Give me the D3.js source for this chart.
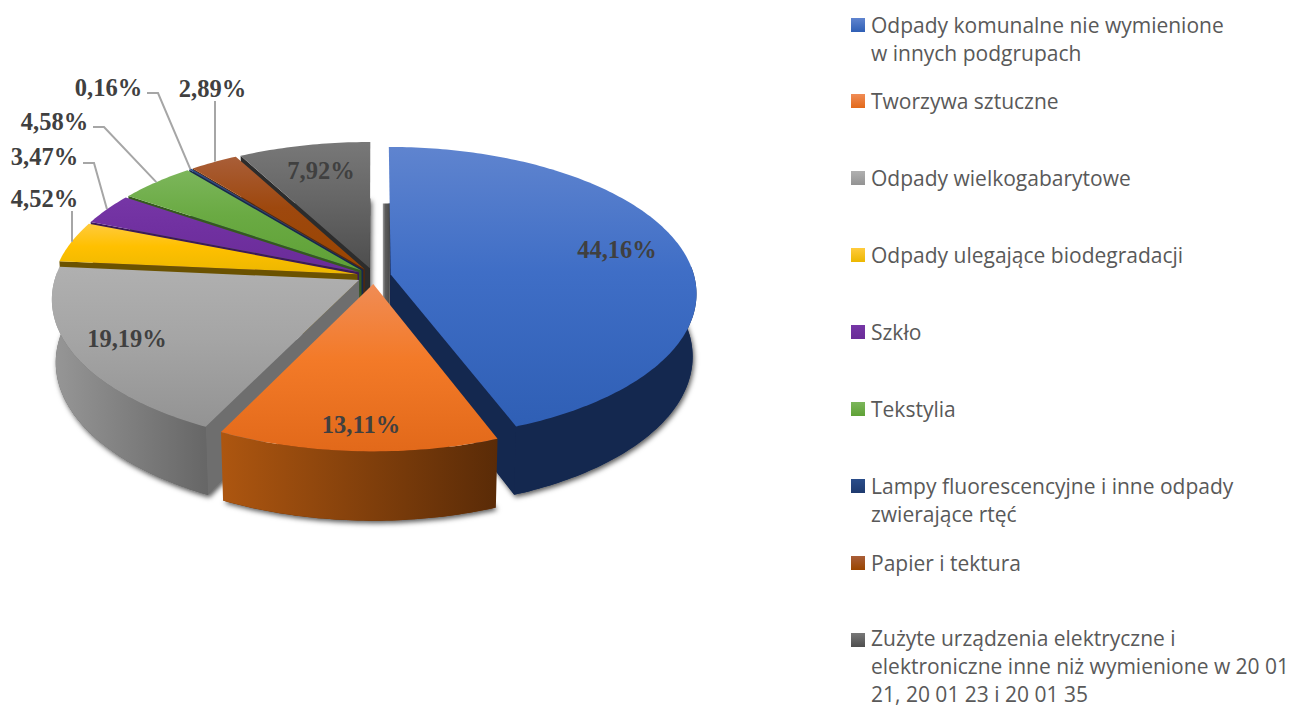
<!DOCTYPE html>
<html>
<head>
<meta charset="utf-8">
<script src="https://cdnjs.cloudflare.com/ajax/libs/d3/7.8.5/d3.min.js"></script>
<style>
  html, body { margin: 0; padding: 0; background: #fff; }
  svg { display: block; }
  .val { font-family: "Liberation Serif", serif; font-weight: bold; font-size: 24.5px; fill: #404040; }
  .leg { font-family: "Open Sans", sans-serif; font-size: 21px; fill: #595959; }
</style>
</head>
<body>
<svg id="chart" width="1295" height="707"></svg>
<script>
// data
var values = [44.16, 13.11, 19.19, 4.52, 3.47, 4.58, 0.16, 2.89, 7.92];
var valueLabels = ["44,16%", "13,11%", "19,19%", "4,52%", "3,47%", "4,58%", "0,16%", "2,89%", "7,92%"];
var legendLines = [
  ["Odpady komunalne nie wymienione", "w innych podgrupach"],
  ["Tworzywa sztuczne"],
  ["Odpady wielkogabarytowe"],
  ["Odpady ulegające biodegradacji"],
  ["Szkło"],
  ["Tekstylia"],
  ["Lampy fluorescencyjne i inne odpady", "zwierające rtęć"],
  ["Papier i tektura"],
  ["Zużyte urządzenia elektryczne i", "elektroniczne inne niż wymienione w 20 01", "21, 20 01 23 i 20 01 35"]
];

// colours: top light / mid / dark, wall left / right
var topColors = [
  ["#5f84cf", "#3f6ec6", "#2f5fb5"],
  ["#f08c55", "#f37a28", "#e2691a"],
  ["#b0b0b0", "#a5a5a5", "#939393"],
  ["#ffcb3d", "#ffc000", "#ecb700"],
  ["#7636a6", "#7030a0", "#6a2c98"],
  ["#7cb65b", "#6aaa43", "#5fa136"],
  ["#2a4d8a", "#264478", "#1e3a6e"],
  ["#a95e38", "#9e480e", "#9a4500"],
  ["#787878", "#666666", "#4e4e4e"]
];
var wallColors = [
  ["#14284f", "#14284f"],
  ["#ad5610", "#5a2b07"],
  ["#979797", "#666666"],
  ["#6b5200", "#5e4800"],
  ["#3c1a58", "#3c1a58"],
  ["#35591f", "#35591f"],
  ["#14284f", "#14284f"],
  ["#5a2806", "#5a2806"],
  ["#2c2c2c", "#2c2c2c"]
];

// projection of the tilted disc
const cx = 374, cy = 276;
const R = 303.5, kR = 144;    // x radius, y radius
const persp = 0.126;          // perspective strength
const depth = 63;             // thickness
const explode = 0.056;
const depthShrink = 0.012;

// u right, v toward viewer, h 0 at top 1 at bottom
var project = function(u, v, h) {
  var s = 1 / (1 - persp * v + depthShrink * h);
  return [cx + R * u * s, cy + (kR * v + depth * h) * s];
};

var pie = d3.pie().sort(null).value(function(d) { return d; });
var arcs = pie(values);
var line = d3.line();

var svg = d3.select("#chart");
var defs = svg.append("defs");

var shadow = defs.append("filter").attr("id", "shadow")
  .attr("x", "-10%").attr("y", "-10%").attr("width", "125%").attr("height", "125%");
shadow.append("feDropShadow")
  .attr("dx", 1.5).attr("dy", 2.5).attr("stdDeviation", 2.5)
  .attr("flood-color", "#000").attr("flood-opacity", 0.65);

arcs.forEach(function(a, i) {
  var g = defs.append("linearGradient").attr("id", "top" + i)
    .attr("x1", 0).attr("y1", 0).attr("x2", 0).attr("y2", 1);
  g.append("stop").attr("offset", "0%").attr("stop-color", topColors[i][0]);
  g.append("stop").attr("offset", "45%").attr("stop-color", topColors[i][1]);
  g.append("stop").attr("offset", "100%").attr("stop-color", topColors[i][2]);
  var w = defs.append("linearGradient").attr("id", "wall" + i)
    .attr("x1", 0).attr("y1", 0).attr("x2", 1).attr("y2", 0);
  w.append("stop").attr("offset", "0%").attr("stop-color", wallColors[i][0]);
  w.append("stop").attr("offset", "100%").attr("stop-color", wallColors[i][1]);
  var lg = defs.append("linearGradient").attr("id", "leg" + i)
    .attr("x1", 0).attr("y1", 0).attr("x2", 0).attr("y2", 1);
  lg.append("stop").attr("offset", "0%").attr("stop-color", topColors[i][0]);
  lg.append("stop").attr("offset", "100%").attr("stop-color", topColors[i][2]);
});

var stripFill = defs.append("linearGradient").attr("id", "strip")
  .attr("x1", 0).attr("y1", 0).attr("x2", 1).attr("y2", 0);
stripFill.append("stop").attr("offset", "0%").attr("stop-color", "#9a9a9a");
stripFill.append("stop").attr("offset", "35%").attr("stop-color", "#5c5c5c");
stripFill.append("stop").attr("offset", "100%").attr("stop-color", "#4a4a4a");

// back slices first
var order = d3.range(arcs.length).sort(function(a, b) {
  var ma = (arcs[a].startAngle + arcs[a].endAngle) / 2;
  var mb = (arcs[b].startAngle + arcs[b].endAngle) / 2;
  return d3.descending(Math.cos(ma), Math.cos(mb));
});

var rimPoints = function(a, h) {
  var m = (a.startAngle + a.endAngle) / 2;
  var ex = explode * Math.sin(m), ey = -explode * Math.cos(m);
  var n = Math.max(2, Math.ceil((a.endAngle - a.startAngle) * 60));
  return d3.range(n + 1).map(function(j) {
    var t = a.startAngle + (a.endAngle - a.startAngle) * j / n;
    return project(Math.sin(t) + ex, -Math.cos(t) + ey, h);
  });
};
var apex = function(a, h) {
  var m = (a.startAngle + a.endAngle) / 2;
  return project(explode * Math.sin(m), -explode * Math.cos(m), h);
};

var pieG = svg.append("g");
order.forEach(function(i) {
  var a = arcs[i];
  var g = pieG.append("g");
  var top = rimPoints(a, 0), bot = rimPoints(a, 1);
  var ap0 = apex(a, 0), ap1 = apex(a, 1);

  // base, carries the soft shadow
  g.append("path")
    .attr("d", line([ap1].concat(bot)) + "Z")
    .attr("fill", wallColors[i][1])
    .attr("filter", "url(#shadow)");

  // back wall of the first slice just shows past its edge
  if (i == 0) {
    g.append("path")
      .attr("d", line([[top[0][0] - 6, bot[0][1]], [top[0][0] + 1, bot[0][1]], [top[0][0] + 1, ap1[1]], [top[0][0] - 6, ap1[1]]]) + "Z")
      .attr("fill", "url(#strip)");
  }

  // radial walls that face the viewer
  if (Math.sin(a.startAngle) < 0) {
    g.append("path")
      .attr("d", line([ap0, top[0], bot[0], ap1]) + "Z")
      .attr("fill", i == 2 ? "#6e6e6e" : wallColors[i][0]);
  }
  if (Math.sin(a.endAngle) > 0) {
    g.append("path")
      .attr("d", line([ap0, top[top.length - 1], bot[bot.length - 1], ap1]) + "Z")
      .attr("fill", wallColors[i][1]);
  }
  // outer wall, front part only
  var idx = d3.range(top.length).filter(function(j) {
    var t = a.startAngle + (a.endAngle - a.startAngle) * j / (top.length - 1);
    return Math.cos(t) < 0.06;
  });
  if (idx.length > 1) {
    var upper = idx.map(function(j) { return top[j]; });
    var lower = idx.map(function(j) { return bot[j]; }).reverse();
    g.append("path")
      .attr("d", line(upper.concat(lower)) + "Z")
      .attr("fill", "url(#wall" + i + ")");
  }
  // top face
  g.append("path")
    .attr("d", line([ap0].concat(top)) + "Z")
    .attr("fill", "url(#top" + i + ")");
});

// value labels inside the slices: x centre, baseline
var insideLabels = { 0: [617, 258], 1: [361, 433], 2: [127, 347], 8: [321, 179] };
Object.keys(insideLabels).forEach(function(i) {
  svg.append("text").attr("class", "val")
    .attr("x", insideLabels[i][0]).attr("y", insideLabels[i][1])
    .attr("text-anchor", "middle").text(valueLabels[i]);
});

// labels with leaders: label x centre, baseline, then leader start and elbow
var outsideLabels = [
  { i: 3, x: 44.5, y: 206.5, from: [72, 211], elbow: null },
  { i: 4, x: 44.5, y: 165, from: [83, 163], elbow: [94, 163] },
  { i: 5, x: 54.5, y: 129.5, from: [93, 127], elbow: [104, 127] },
  { i: 6, x: 108.5, y: 95.5, from: [147, 93], elbow: [158, 93] },
  { i: 7, x: 212.5, y: 97, from: [215, 101], elbow: null }
];
outsideLabels.forEach(function(o) {
  var a = arcs[o.i];
  var rim = rimPoints(a, 0);
  var end = rim[Math.floor(rim.length / 2)];
  var pts = o.elbow ? [o.from, o.elbow, end] : [o.from, [o.from[0], end[1]]];
  svg.append("path").attr("d", line(pts))
    .attr("fill", "none").attr("stroke", "#a6a6a6").attr("stroke-width", 2);
  svg.append("text").attr("class", "val")
    .attr("x", o.x).attr("y", o.y)
    .attr("text-anchor", "middle").text(valueLabels[o.i]);
});

// legend: baseline of the first line of each entry
var legendY = [32.7, 108.7, 185.7, 262.7, 339.7, 416.7, 493.7, 570.7, 645.5];
const legendLine = 28;
var legend = svg.append("g");
legendLines.forEach(function(lines, i) {
  legend.append("rect")
    .attr("x", 851).attr("y", (i == 8 ? 647 : Math.floor(legendY[i])) - 14)
    .attr("width", 14).attr("height", 14)
    .attr("fill", "url(#leg" + i + ")");
  lines.forEach(function(t, j) {
    legend.append("text").attr("class", "leg")
      .attr("x", 871).attr("y", legendY[i] + j * legendLine)
      .text(t);
  });
});
</script>
</body>
</html>
